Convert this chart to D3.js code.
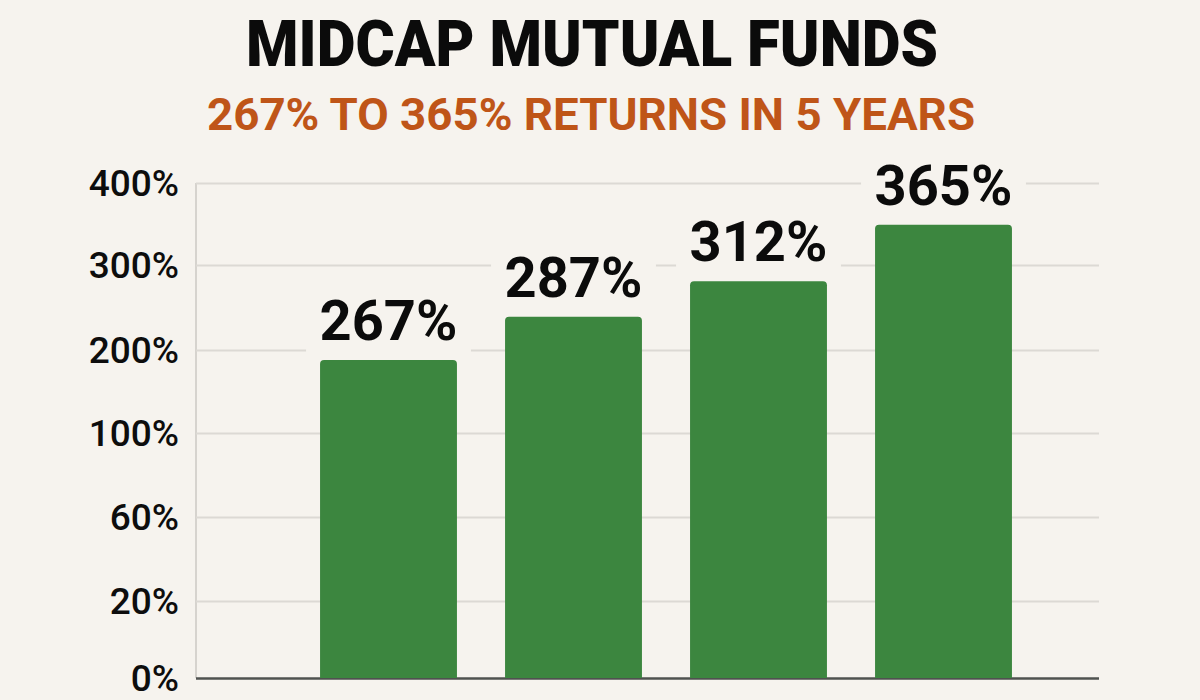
<!DOCTYPE html>
<html><head><meta charset="utf-8">
<script src="https://cdn.jsdelivr.net/npm/d3@7"></script>
<style>html,body{margin:0;padding:0;background:#f6f3ee;overflow:hidden}svg{display:block}</style>
</head><body><svg id="c" width="1200" height="700"></svg>
<script>
const titleText = "MIDCAP MUTUAL FUNDS";
const subtitleText = "267% TO 365% RETURNS IN 5 YEARS";
const categories = ["Fund A", "Fund B", "Fund C", "Fund D"];
const barHeights = [188, 239, 281, 349];
const barLabels = ["267%", "287%", "312%", "365%"];
const tickValues = [0, 20, 60, 100, 200, 300, 400];

const svg = d3.select("#c");
const bg = "#f6f3ee";
const left = 196, right = 1099;

const x = d3.scaleBand().domain(categories).range([296, 1036]).paddingInner(0.26).paddingOuter(0.13);
const y = d3.scaleLinear().domain(tickValues).range([678, 601, 517, 433, 350, 265, 183]);

svg.append("text").attr("x", 592).attr("y", 66).attr("text-anchor", "middle")
  .attr("font-family", "Roboto").attr("font-weight", 900).attr("font-size", 65)
  .attr("textLength", 692).attr("lengthAdjust", "spacingAndGlyphs")
  .attr("fill", "#0b0b0b").text(titleText);
svg.append("text").attr("x", 591).attr("y", 130).attr("text-anchor", "middle")
  .attr("font-family", "Roboto").attr("font-weight", 700).attr("font-size", 45)
  .attr("textLength", 768).attr("lengthAdjust", "spacingAndGlyphs")
  .attr("fill", "#bf5518").text(subtitleText);

const axis = svg.append("g").attr("transform", `translate(${left},0)`)
  .call(d3.axisLeft(y).tickValues(tickValues).tickSize(-(right - left)).tickPadding(17).tickFormat(d => d + "%"));
axis.select(".domain").remove();
axis.selectAll(".tick line").attr("stroke", d => d === 0 ? "#4f524f" : "#dcd9d4").attr("stroke-width", d => d === 0 ? 2.5 : 2);
axis.selectAll(".tick text").attr("font-family", "Roboto").attr("font-weight", 500).attr("font-size", 37)
  .attr("fill", "#0d0d0d").attr("dy", "0.33em");
svg.append("line").attr("x1", left).attr("x2", left).attr("y1", y(400)).attr("y2", y(0))
  .attr("stroke", "#d6d3ce").attr("stroke-width", 2);
axis.raise();
axis.selectAll(".tick").filter(d => d === 0).raise();

const rows = categories.map((c, i) => ({c, v: barHeights[i], label: barLabels[i]}));
const labelFont = 56, pad = 14, baseGap = 20;

svg.append("g").selectAll("rect").data(rows).join("rect")
  .attr("x", d => x(d.c) - pad).attr("width", x.bandwidth() + 2 * pad)
  .attr("y", d => y(d.v) - baseGap - labelFont * 0.85).attr("height", baseGap + labelFont * 0.85)
  .attr("fill", bg);

const r = 4;
svg.append("g").selectAll("path").data(rows).join("path")
  .attr("fill", "#3c863f")
  .attr("d", d => {
    const p = d3.path(), x0 = x(d.c), x1 = x0 + x.bandwidth(), t = y(d.v), b = y(0);
    p.moveTo(x0, b); p.lineTo(x0, t + r); p.arcTo(x0, t, x0 + r, t, r);
    p.lineTo(x1 - r, t); p.arcTo(x1, t, x1, t + r, r); p.lineTo(x1, b); p.closePath();
    return p.toString();
  });

svg.append("g").selectAll("text").data(rows).join("text")
  .attr("x", d => x(d.c) + x.bandwidth() / 2).attr("y", d => y(d.v) - baseGap)
  .attr("text-anchor", "middle").attr("font-family", "Roboto").attr("font-weight", 700)
  .attr("font-size", labelFont).attr("fill", "#0b0b0b").text(d => d.label);
</script></body></html>
